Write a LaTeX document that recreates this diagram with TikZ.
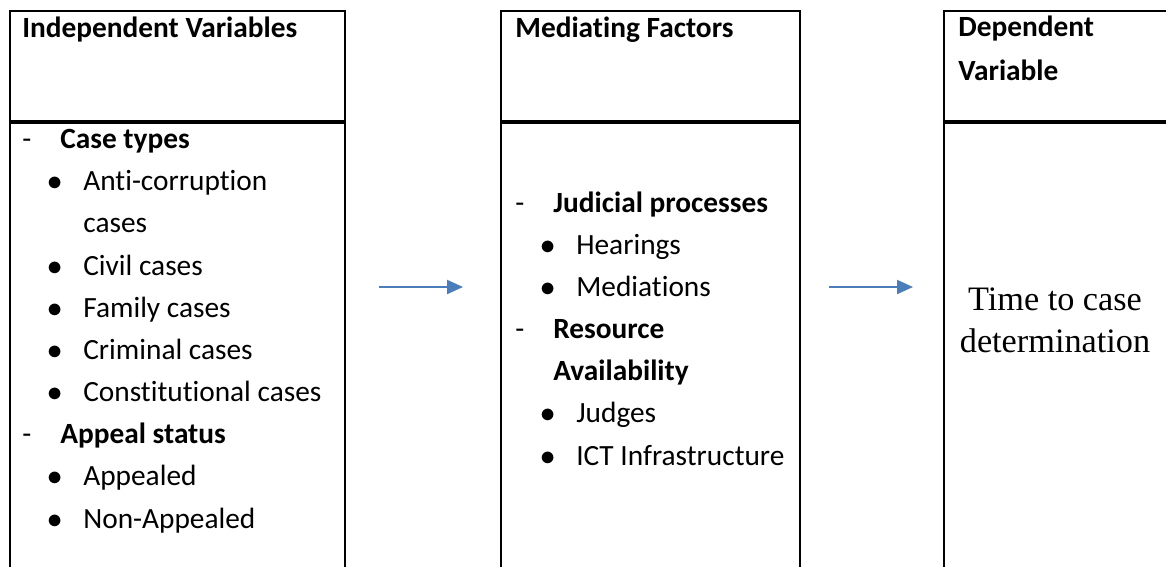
\documentclass[tikz,border=0pt]{standalone}
\usepackage{fontspec}
\setmainfont{Carlito}[RawFeature={-liga}]
\newfontfamily\serifbody{Liberation Serif}
\usetikzlibrary{arrows.meta}
\definecolor{flowblue}{HTML}{4A7EBB}
% list lines: group heading, bullet item, wrapped item
\newcommand{\grp}[1]{\makebox[0.76cm][l]{-}\textbf{#1}}
\newcommand{\grpcnt}[1]{\hspace*{0.76cm}\textbf{#1}}
\newcommand{\itm}[1]{\hspace*{0.5cm}\makebox[0.72cm][l]{$\bullet$}#1}
\newcommand{\cnt}[1]{\hspace*{1.22cm}#1}
\def\headh{2.2cm}
\def\bodyh{9.6cm}

\begin{document}
\begin{tikzpicture}[
  x=0.02cm, y=-0.02cm,
  frame/.style = {draw, line width=1.15pt, inner sep=0pt, anchor=north west},
  head/.style  = {font=\bfseries\fontsize{16.7}{24.5}\selectfont, align=left,
                  anchor=base west, inner sep=0pt},
  body/.style  = {font=\fontsize{16.7}{24}\selectfont, align=left,
                  anchor=base west, inner sep=0pt},
  outc/.style  = {font=\serifbody\fontsize{19.5}{23.9}\selectfont, align=center,
                  anchor=base, inner sep=0pt},
  flow/.style  = {-{Triangle[length=0.32cm,width=0.28cm]}, line width=1.2pt, flowblue},
]
\useasboundingbox (0,0) rectangle (1166,566);
\clip (0,0) rectangle (1166,566);

% ---------- the three columns ----------
\node[frame, minimum width=6.7cm,  minimum height=\headh] (ivhead) at (9,10) {};
\node[frame, minimum width=6.7cm,  minimum height=\bodyh] (ivbody) at (ivhead.south west) {};
\node[frame, minimum width=5.98cm, minimum height=\headh] (mfhead) at (500,10) {};
\node[frame, minimum width=5.98cm, minimum height=\bodyh] (mfbody) at (mfhead.south west) {};
\node[frame, minimum width=6cm,    minimum height=\headh] (dvhead) at (943,10) {};
\node[frame, minimum width=6cm,    minimum height=\bodyh] (dvbody) at (dvhead.south west) {};

% ---------- titles (multi-line nodes sit on their last baseline) ----------
\node[head] (ivtitle) at (22,37)  {Independent Variables};
\node[head] (mftitle) at (515,37) {Mediating Factors};
\node[head] (dvtitle) at (958,80) {Dependent\\Variable};

% ---------- column contents ----------
\node[body] (ivlist) at (22,528) {\grp{Case types}\\
  \itm{Anti-corruption}\\ \cnt{cases}\\ \itm{Civil cases}\\ \itm{Family cases}\\
  \itm{Criminal cases}\\ \itm{Constitutional cases}\\
  \grp{Appeal status}\\ \itm{Appealed}\\ \itm{Non-Appealed}};
\node[body] (mflist) at (515,465) {\grp{Judicial processes}\\
  \itm{Hearings}\\ \itm{Mediations}\\
  \grp{Resource}\\ \grpcnt{Availability}\\ \itm{Judges}\\ \itm{ICT Infrastructure}};
\node[outc] (dvtext) at (1055,352) {Time to case\\determination};

% ---------- arrows between columns ----------
\coordinate (flowrow) at (0,287);
\draw[flow, shorten <=0.66cm, shorten >=0.74cm] (ivbody.east |- flowrow) -- (mfbody.west |- flowrow);
\draw[flow, shorten <=0.56cm, shorten >=0.6cm]  (mfbody.east |- flowrow) -- (dvbody.west |- flowrow);

\end{tikzpicture}
\end{document}
